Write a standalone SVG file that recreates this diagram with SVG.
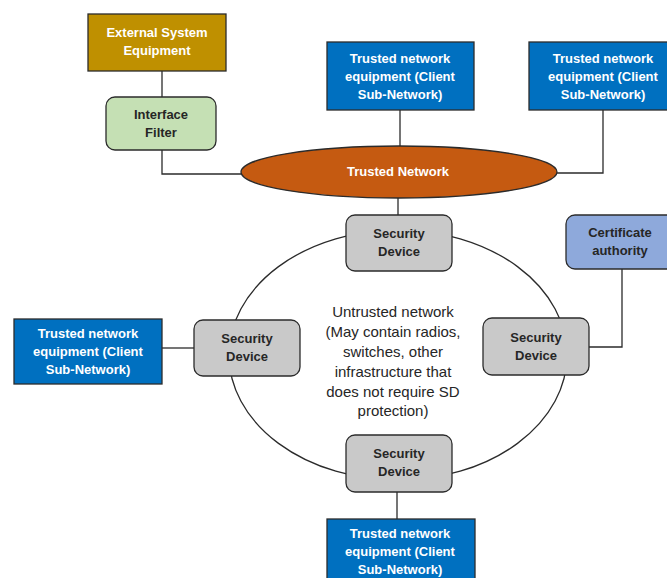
<svg xmlns="http://www.w3.org/2000/svg" width="667" height="578" viewBox="0 0 667 578">
  <style>
    .box { stroke: #2b2b2b; stroke-width: 1.3; }
    .ext { fill: #BF9000; }
    .filter { fill: #C5E0B4; }
    .client { fill: #0070C0; }
    .sd { fill: #C9C9C9; }
    .ca { fill: #8EA9DB; }
    .tn { fill: #C55A11; }
    .wire { fill: none; stroke: #2b2b2b; stroke-width: 1.3; }
    text { font-family: "Liberation Sans", Arial, sans-serif; font-size: 13px; text-anchor: middle; }
    .lw { fill: #ffffff; font-weight: bold; }
    .ld { fill: #262626; font-weight: bold; }
    .note { fill: #262626; font-size: 15px; }
  </style>

  <!-- untrusted network cloud -->
  <g id="untrusted">
    <ellipse cx="398" cy="355" rx="169" ry="125" class="wire"/>
    <text class="note" x="393" y="317">Untrusted network</text>
    <text class="note" x="393" y="337">(May contain radios,</text>
    <text class="note" x="393" y="357">switches, other</text>
    <text class="note" x="393" y="377">infrastructure that</text>
    <text class="note" x="393" y="397">does not require SD</text>
    <text class="note" x="393" y="416">protection)</text>
  </g>

  <!-- links -->
  <g id="connectors">
    <line x1="162" y1="71" x2="162" y2="97" class="wire"/>
    <polyline points="162,150 162,174 241,174" class="wire"/>
    <line x1="400" y1="110" x2="400" y2="146" class="wire"/>
    <polyline points="603,110 603,173 557,173" class="wire"/>
    <line x1="398" y1="198" x2="398" y2="215" class="wire"/>
    <polyline points="622,269 622,347 589,347" class="wire"/>
    <line x1="162" y1="348" x2="194" y2="348" class="wire"/>
    <line x1="397" y1="492" x2="397" y2="519" class="wire"/>
  </g>

  <g id="external-system">
    <rect x="88" y="14" width="138" height="57" class="box ext"/>
    <text class="lw" x="157" y="37">External System</text>
    <text class="lw" x="157" y="55">Equipment</text>
  </g>

  <g id="interface-filter">
    <rect x="106" y="97" width="110" height="53" rx="9" class="box filter"/>
    <text class="ld" x="161" y="119">Interface</text>
    <text class="ld" x="161" y="137">Filter</text>
  </g>

  <g id="trusted-network">
    <ellipse cx="399" cy="172" rx="158" ry="26" class="box tn"/>
    <text class="lw" x="398" y="176">Trusted Network</text>
  </g>

  <g id="client-top">
    <rect x="327" y="42" width="147" height="68" class="box client"/>
    <text class="lw" x="400" y="63">Trusted network</text>
    <text class="lw" x="400" y="81">equipment (Client</text>
    <text class="lw" x="400" y="99">Sub-Network)</text>
  </g>

  <g id="client-right">
    <rect x="529" y="42" width="147" height="68" class="box client"/>
    <text class="lw" x="603" y="63">Trusted network</text>
    <text class="lw" x="603" y="81">equipment (Client</text>
    <text class="lw" x="603" y="99">Sub-Network)</text>
  </g>

  <g id="sd-top">
    <rect x="346" y="215" width="106" height="56" rx="9" class="box sd"/>
    <text class="ld" x="399" y="238">Security</text>
    <text class="ld" x="399" y="256">Device</text>
  </g>

  <g id="certificate-authority">
    <rect x="566" y="215" width="110" height="54" rx="9" class="box ca"/>
    <text class="ld" x="620" y="237">Certificate</text>
    <text class="ld" x="620" y="255">authority</text>
  </g>

  <g id="sd-left">
    <rect x="194" y="320" width="106" height="56" rx="9" class="box sd"/>
    <text class="ld" x="247" y="343">Security</text>
    <text class="ld" x="247" y="361">Device</text>
  </g>

  <g id="client-left">
    <rect x="14" y="319" width="148" height="65" class="box client"/>
    <text class="lw" x="88" y="338">Trusted network</text>
    <text class="lw" x="88" y="356">equipment (Client</text>
    <text class="lw" x="88" y="374">Sub-Network)</text>
  </g>

  <g id="sd-right">
    <rect x="483" y="318" width="106" height="57" rx="9" class="box sd"/>
    <text class="ld" x="536" y="342">Security</text>
    <text class="ld" x="536" y="360">Device</text>
  </g>

  <g id="sd-bottom">
    <rect x="346" y="435" width="106" height="57" rx="9" class="box sd"/>
    <text class="ld" x="399" y="458">Security</text>
    <text class="ld" x="399" y="476">Device</text>
  </g>

  <g id="client-bottom">
    <rect x="327" y="519" width="148" height="68" class="box client"/>
    <text class="lw" x="400" y="538">Trusted network</text>
    <text class="lw" x="400" y="556">equipment (Client</text>
    <text class="lw" x="400" y="574">Sub-Network)</text>
  </g>
</svg>
